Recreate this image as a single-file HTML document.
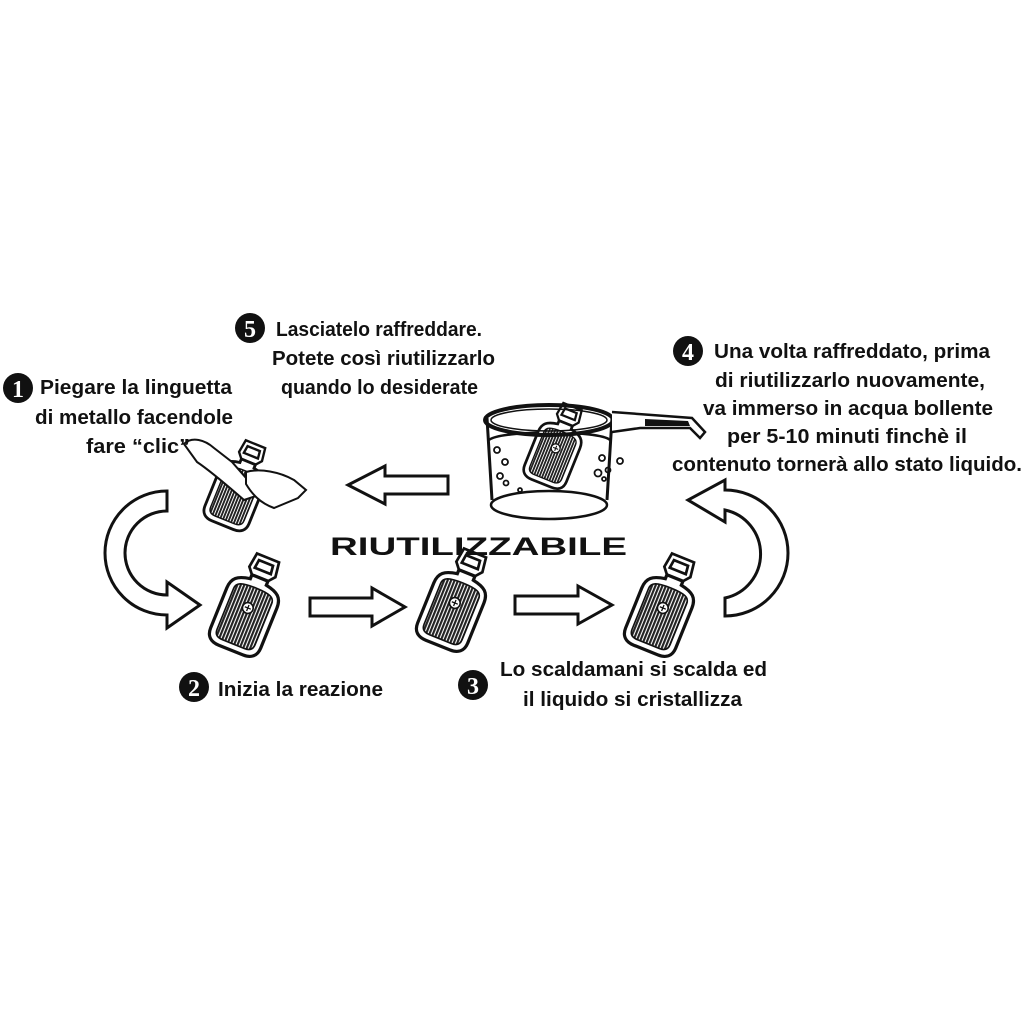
<!DOCTYPE html>
<html><head><meta charset="utf-8"><style>
html,body{margin:0;padding:0;background:#fff;}
svg{display:block;}
.t{font-family:"Liberation Sans Narrow","Liberation Sans",sans-serif;font-weight:bold;font-size:20px;fill:#111;}
.n{font-family:"Liberation Serif",serif;font-weight:bold;font-size:24px;fill:#fff;text-anchor:middle;}
</style></head><body>
<svg width="1024" height="1024" viewBox="0 0 1024 1024" xmlns="http://www.w3.org/2000/svg">
<defs>
<pattern id="h" width="3" height="3" patternUnits="userSpaceOnUse">
<rect width="3" height="3" fill="#fff"/><rect width="2" height="3" fill="#222"/>
</pattern>
<g id="w">
<path d="M-11,-52 L11,-52 L13,-38 L8,-32 L-8,-32 L-13,-38 Z M-7,-47 L7,-47 L8,-39 L-8,-39 Z" fill="#fff" stroke="#111" stroke-width="2.5" fill-rule="evenodd"/>
<path d="M-8,-32 L8,-32 L8,-28 C20,-26 25,-22 25,-12 L25,28 C25,36 20,40 12,40 L-12,40 C-20,40 -25,36 -25,28 L-25,-12 C-25,-22 -20,-26 -8,-28 Z" fill="#fff" stroke="#111" stroke-width="3"/>
<path d="M-19,-14 C-19,-20 -14,-22 0,-22 C14,-22 19,-20 19,-14 L19,27 C19,32 16,34 11,34 L-11,34 C-16,34 -19,32 -19,27 Z" fill="url(#h)" stroke="#111" stroke-width="1.5"/>
<circle cx="0" cy="-2" r="5" fill="#fff" stroke="#111" stroke-width="1.5"/>
<path d="M-3,-2 H3 M0,-5 V1" stroke="#111" stroke-width="1.2"/>
</g>
</defs>

<!-- warmers -->
<use href="#w" transform="translate(247,610) rotate(22) scale(1.08)"/>
<use href="#w" transform="translate(454,605) rotate(22) scale(1.08)"/>
<use href="#w" transform="translate(662,610) rotate(22) scale(1.08)"/>
<use href="#w" transform="translate(237,490) rotate(22) scale(0.95)"/>

<!-- hand (step1) -->
<path d="M184,444 C192,436 205,440 214,448 L232,462 L246,478 L256,496 L244,500 C230,488 212,472 197,462 Z" fill="#fff" stroke="#111" stroke-width="2"/>
<path d="M246,472 C260,468 280,472 294,480 L306,490 L298,498 L274,508 C260,503 252,494 246,484 Z" fill="#fff" stroke="#111" stroke-width="2"/>

<!-- pot -->
<path d="M487,418 L492,500 M612,418 L607,500" stroke="#111" stroke-width="3" fill="none"/>
<path d="M489,440 C500,430 600,430 610,440" stroke="#111" stroke-width="2.5" fill="none"/>
<ellipse cx="549" cy="505" rx="58" ry="14" fill="none" stroke="#111" stroke-width="2.5"/>
<use href="#w" transform="translate(555,450) rotate(22) scale(0.9)"/>
<ellipse cx="549" cy="420" rx="64" ry="15" fill="none" stroke="#111" stroke-width="4"/>
<ellipse cx="549" cy="420" rx="58" ry="11" fill="none" stroke="#111" stroke-width="1.5"/>
<path d="M612,412 L692,418 L705,432 L700,438 L690,428 L640,428 L612,432" fill="#fff" stroke="#111" stroke-width="2.5"/>
<path d="M645,419 L688,421 L690,426 L645,426 Z" fill="#111"/>
<g fill="none" stroke="#111" stroke-width="1.8">
<circle cx="497" cy="450" r="3"/><circle cx="505" cy="462" r="3"/><circle cx="500" cy="476" r="3"/><circle cx="506" cy="483" r="2.5"/>
<circle cx="602" cy="458" r="3"/><circle cx="620" cy="461" r="3"/><circle cx="598" cy="473" r="3.5"/><circle cx="608" cy="470" r="2.5"/><circle cx="604" cy="479" r="2"/><circle cx="520" cy="490" r="2"/>
</g>

<!-- straight arrows -->
<g fill="#fff" stroke="#111" stroke-width="3" stroke-linejoin="miter">
<path d="M448,476 L385,476 L385,466 L348,485 L385,504 L385,494 L448,494 Z"/>
<path d="M310,598 L372,598 L372,588 L405,607 L372,626 L372,616 L310,616 Z"/>
<path d="M515,596 L578,596 L578,586 L612,605 L578,624 L578,614 L515,614 Z"/>
<path d="M167,491 A62,62 0 0 0 167,615 L167,628 L200,605 L167,582 L167,595 A42,42 0 0 1 167,511 Z"/>
<path d="M725,490 L725,480 L688,500 L725,522 L725,510 A45,45 0 0 1 725,598 L725,616 A62,62 0 0 0 725,490 Z"/>
</g>

<!-- number circles -->
<circle cx="18" cy="388" r="15" fill="#111"/><text class="n" x="18" y="397">1</text>
<circle cx="250" cy="328" r="15" fill="#111"/><text class="n" x="250" y="337">5</text>
<circle cx="688" cy="351" r="15" fill="#111"/><text class="n" x="688" y="360">4</text>
<circle cx="194" cy="687" r="15" fill="#111"/><text class="n" x="194" y="696">2</text>
<circle cx="473" cy="685" r="15" fill="#111"/><text class="n" x="473" y="694">3</text>

<!-- texts -->
<text class="t" x="40" y="394" textLength="192" lengthAdjust="spacingAndGlyphs">Piegare la linguetta</text>
<text class="t" x="35" y="424" textLength="198" lengthAdjust="spacingAndGlyphs">di metallo facendole</text>
<text class="t" x="86" y="453" textLength="104" lengthAdjust="spacingAndGlyphs">fare “clic”</text>

<text class="t" x="276" y="336" textLength="206" lengthAdjust="spacingAndGlyphs">Lasciatelo raffreddare.</text>
<text class="t" x="272" y="365" textLength="223" lengthAdjust="spacingAndGlyphs">Potete così riutilizzarlo</text>
<text class="t" x="281" y="394" textLength="197" lengthAdjust="spacingAndGlyphs">quando lo desiderate</text>

<text class="t" x="714" y="358" textLength="276" lengthAdjust="spacingAndGlyphs">Una volta raffreddato, prima</text>
<text class="t" x="715" y="387" textLength="270" lengthAdjust="spacingAndGlyphs">di riutilizzarlo nuovamente,</text>
<text class="t" x="703" y="415" textLength="290" lengthAdjust="spacingAndGlyphs">va immerso in acqua bollente</text>
<text class="t" x="727" y="443" textLength="240" lengthAdjust="spacingAndGlyphs">per 5-10 minuti finchè il</text>
<text class="t" x="672" y="471" textLength="350" lengthAdjust="spacingAndGlyphs">contenuto tornerà allo stato liquido.</text>

<text x="330" y="555" font-family="Liberation Sans, sans-serif" font-weight="bold" font-size="25" fill="#111" textLength="297" lengthAdjust="spacingAndGlyphs">RIUTILIZZABILE</text>

<text class="t" x="218" y="696" textLength="165" lengthAdjust="spacingAndGlyphs">Inizia la reazione</text>
<text class="t" x="500" y="676" textLength="267" lengthAdjust="spacingAndGlyphs">Lo scaldamani si scalda ed</text>
<text class="t" x="523" y="706" textLength="219" lengthAdjust="spacingAndGlyphs">il liquido si cristallizza</text>
</svg>
</body></html>
